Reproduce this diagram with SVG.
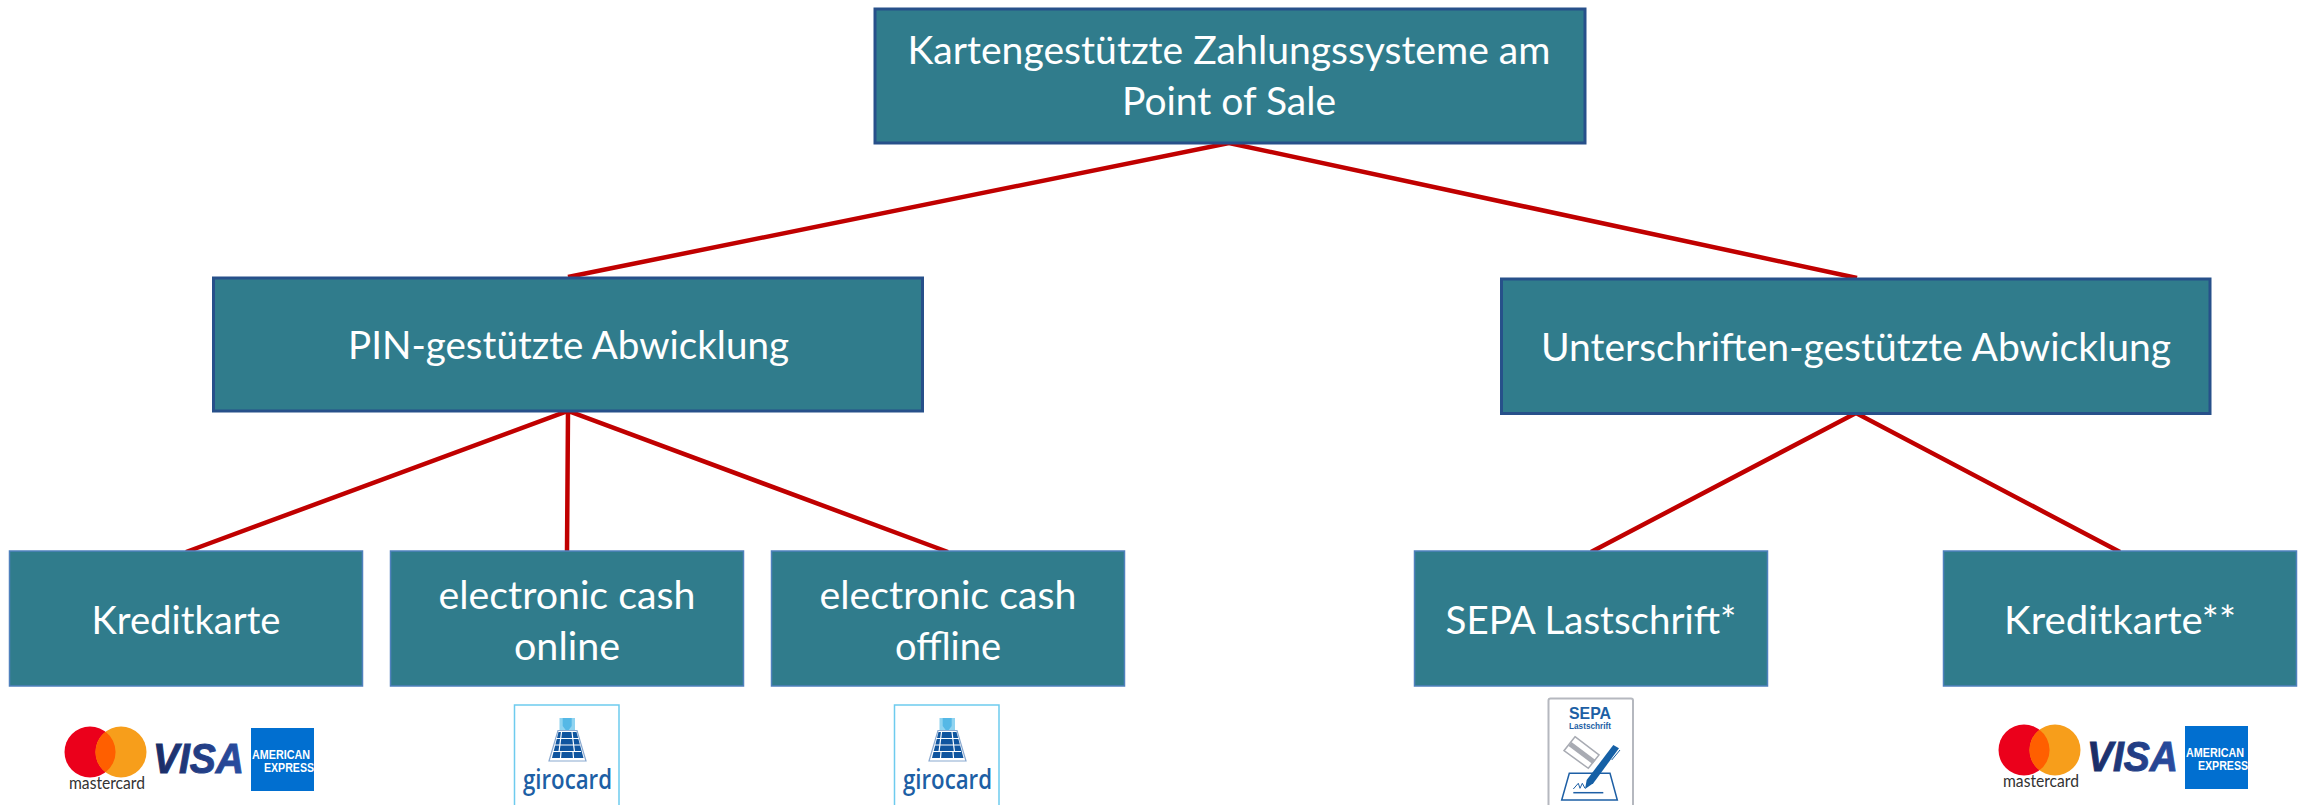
<svg xmlns="http://www.w3.org/2000/svg" width="2303" height="805" viewBox="0 0 2303 805">
<style>
.box{fill:#307c8c;stroke:#27508a;stroke-width:3}
.box2{fill:#307c8c;stroke:#4f81bd;stroke-width:1.5}
.t{font-family:"Lato","Liberation Sans",sans-serif;font-size:39px;fill:#fff;text-anchor:middle}
.c{stroke:#c00000;stroke-width:4.5;fill:none}
.mc{font-family:"Lato","Liberation Sans",sans-serif;font-size:17px;fill:#333;text-anchor:middle}
.visa{font-family:"Liberation Sans",sans-serif;font-weight:700;font-style:italic;font-size:42px;fill:url(#vg);stroke:url(#vg);stroke-width:1;text-anchor:middle}
.ax{font-family:"Liberation Sans",sans-serif;font-weight:700;font-size:13.5px;fill:#fff}
.gc{font-family:"Open Sans","Liberation Sans",sans-serif;font-weight:600;font-size:27px;fill:#1d5fa5;text-anchor:middle}
.sp{font-family:"Liberation Sans",sans-serif;font-weight:700;fill:#1d5fa5;text-anchor:middle}
</style>
<defs>
<linearGradient id="vg" x1="0" x2="1" y1="0" y2="0"><stop offset="0" stop-color="#1a2b63"/><stop offset="1" stop-color="#2a4ea3"/></linearGradient>
<g id="cards">
<circle cx="90" cy="752" r="25.5" fill="#eb001b"/>
<circle cx="121" cy="752" r="25.5" fill="#f79e1b"/>
<path d="M105.500 731.700a25.500 25.500 0 0 1 0 40.600a25.500 25.500 0 0 1 0-40.600z" fill="#ff5f00"/>
<text class="mc" x="107" y="789" textLength="76" lengthAdjust="spacingAndGlyphs">mastercard</text>
<text class="visa" x="198.500" y="772.700" textLength="91" lengthAdjust="spacingAndGlyphs">VISA</text>
<rect x="251" y="728" width="63" height="63" fill="#016fd0"/>
<text class="ax" x="252" y="759" textLength="58" lengthAdjust="spacingAndGlyphs">AMERICAN</text>
<text class="ax" x="264" y="772" textLength="50" lengthAdjust="spacingAndGlyphs">EXPRESS</text>
</g>
<g id="giro">
<path d="M514.500 805V705H619V805" fill="#fff" stroke="#6ecbee" stroke-width="1.500"/>
<rect x="559.500" y="718" width="15.500" height="13" fill="#8fd3f0"/>
<path d="M562.700 718h9v8l-4.500 6l-4.500-6z" fill="#55b8e6"/>
<path d="M558 730.500h19l9 30.500h-37z" fill="#fff" stroke="#8aa9d0" stroke-width="1.200"/>
<path d="M558.500 732h18l7 26h-31.500z" fill="#0f559f"/>
<path d="M556 738.500h23M555 745h25M553 751.500h28M561.500 732l-2.500 20M572 732l2.500 20M561 752l-.5 6M573 752l.5 6" stroke="#fff" stroke-width="1.200" fill="none"/>
<text class="gc" x="567.500" y="789" textLength="89" lengthAdjust="spacingAndGlyphs">girocard</text>
</g>
</defs>
<rect width="2303" height="805" fill="#fff"/>
<g id="connectors">
<path class="c" d="M568 277L1229 143L1857 278"/>
<path class="c" d="M186 552L568 411L948 552M568 411L567 552"/>
<path class="c" d="M1591 552L1856 413L2120 552"/>
</g>
<g id="n-root"><rect class="box" x="875" y="9" width="710" height="134"/>
<text class="t" x="1229" y="64" textLength="643" lengthAdjust="spacingAndGlyphs">Kartengestützte Zahlungssysteme am</text>
<text class="t" x="1229" y="115" textLength="214" lengthAdjust="spacingAndGlyphs">Point of Sale</text></g>
<g id="n-pin"><rect class="box" x="213.500" y="278" width="709" height="133"/>
<text class="t" x="568.500" y="359" textLength="441" lengthAdjust="spacingAndGlyphs">PIN-gestützte Abwicklung</text></g>
<g id="n-sig"><rect class="box" x="1501.500" y="279" width="708.500" height="134.500"/>
<text class="t" x="1856" y="361" textLength="630" lengthAdjust="spacingAndGlyphs">Unterschriften-gestützte Abwicklung</text></g>
<g id="n-kk"><rect class="box2" x="9.500" y="551" width="353" height="135"/>
<text class="t" x="186" y="634" textLength="189" lengthAdjust="spacingAndGlyphs">Kreditkarte</text></g>
<g id="n-eco"><rect class="box2" x="390.500" y="551" width="353" height="135"/>
<text class="t" x="567" y="609" textLength="257" lengthAdjust="spacingAndGlyphs">electronic cash</text><text class="t" x="567" y="660" textLength="106" lengthAdjust="spacingAndGlyphs">online</text></g>
<g id="n-ecf"><rect class="box2" x="771.500" y="551" width="353" height="135"/>
<text class="t" x="948" y="609" textLength="257" lengthAdjust="spacingAndGlyphs">electronic cash</text><text class="t" x="948" y="660" textLength="106" lengthAdjust="spacingAndGlyphs">offline</text></g>
<g id="n-sepa"><rect class="box2" x="1414.500" y="551" width="353" height="135"/>
<text class="t" x="1591" y="634" textLength="291" lengthAdjust="spacingAndGlyphs">SEPA Lastschrift*</text></g>
<g id="n-kk2"><rect class="box2" x="1943.500" y="551" width="353" height="135"/>
<text class="t" x="2120" y="634" textLength="232" lengthAdjust="spacingAndGlyphs">Kreditkarte**</text></g>
<g id="logo-cards1"><use href="#cards"/></g>
<g id="logo-cards2"><use href="#cards" x="1934" y="-2"/></g>
<g id="logo-giro1"><use href="#giro"/></g>
<g id="logo-giro2"><use href="#giro" x="380"/></g>
<g id="logo-sepa">
<path d="M1548.500 805V700.500a2 2 0 0 1 2-2H1631a2 2 0 0 1 2 2V805" fill="#fff" stroke="#b5b8bf" stroke-width="2"/>
<text class="sp" x="1590" y="719.300" font-size="16.500" textLength="42" lengthAdjust="spacingAndGlyphs">SEPA</text>
<text class="sp" x="1590" y="728.500" font-size="9.500" textLength="42" lengthAdjust="spacingAndGlyphs">Lastschrift</text>
<path d="M1575 736.700L1599 755L1588.300 768.300L1564 750.700z" fill="#fff" stroke="#a8abb3" stroke-width="1.500"/>
<path d="M1571.500 742L1595.500 760L1592.500 764L1568.500 746z" fill="#a8abb3"/>
<path d="M1569.300 773.300H1610L1617.300 800H1561.700z" fill="#fff" stroke="#1d5fa5" stroke-width="1.500"/>
<path d="M1585 789L1586.700 780L1613.300 745L1619 748.300L1593.300 783.300z" fill="#1560a6"/>
<path d="M1611.700 760L1620 750" stroke="#1560a6" stroke-width="1" fill="none"/>
<path d="M1573.300 789L1578.300 783.300L1580 788.300L1582.300 783.300L1585 788.300" fill="none" stroke="#1d5fa5"/>
<path d="M1573.300 792.700H1603.300" stroke="#1d5fa5" stroke-width="1.500"/>
</g>
</svg>
